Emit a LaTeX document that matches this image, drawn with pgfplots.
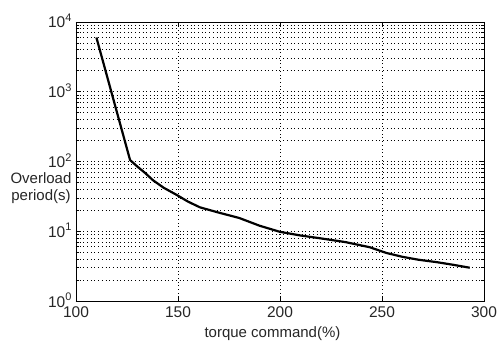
\documentclass[border=0pt]{standalone}
\usepackage{pgfplots}
\pgfplotsset{compat=1.18}
\usepackage{fontspec}
\setmainfont{Liberation Sans}
\newcommand{\dec}[1]{10\raisebox{0.42em}{\fontsize{11}{11}\selectfont #1}}
\begin{document}
\begin{tikzpicture}[x=1pt,y=1pt]
\path[use as bounding box] (-76,-47) rectangle (423,301);
\begin{axis}[
  at={(0,0)}, anchor=south west,
  scale only axis, width=408pt, height=279pt,
  ymode=log, xmin=100, xmax=300, ymin=1, ymax=10000,
  xtick={100,150,200,250,300},
  ytick={1,10,100,1000,10000},
  yticklabels={\dec{0},\dec{1},\dec{2},\dec{3},\dec{4}},
  minor ytick={2,3,4,5,6,7,8,9,20,30,40,50,60,70,80,90,200,300,400,500,600,700,800,900,2000,3000,4000,5000,6000,7000,8000,9000},
  tick align=inside, tick pos=both,
  major tick length=5pt, minor tick length=3pt,
  xmajorgrids=true, ymajorgrids=true, yminorgrids=true,
  major grid style={black, line width=0.7pt, dash pattern=on 0.7pt off 3pt},
  minor grid style={black, line width=0.7pt, dash pattern=on 0.7pt off 3pt},
  axis line style={black, line width=0.8pt},
  every tick/.style={black, line width=0.8pt},
  /pgf/number format/assume math mode=true,
  tick label style={font=\fontsize{15.5}{17}\selectfont, text=black!85},
  xticklabel style={yshift=-2pt},
  yticklabel style={xshift=-1pt, yshift=1pt},
]
\addplot[black, line width=2.2pt, line join=round] coordinates {
(110,6000) (126.5,105) (130,85) (134,68) (137.7,54) (143,42) (149.5,33) (155,26.5) (160.8,22)
(170,18.5) (180,15.5) (190,12) (200,9.8) (210,8.7) (220,7.9) (232,7.0)
(244,5.9) (252,4.9) (260,4.3) (268,3.9) (277,3.6) (285,3.3) (293,3.0)
};
\end{axis}
\node[align=center, font=\fontsize{15}{17}\selectfont, text=black!85] at (-35,112.5) {Overload\\period(s)};
\node[font=\fontsize{15}{17}\selectfont, text=black!85] at (196.5,-33) {torque command(\%)};
\end{tikzpicture}
\end{document}
